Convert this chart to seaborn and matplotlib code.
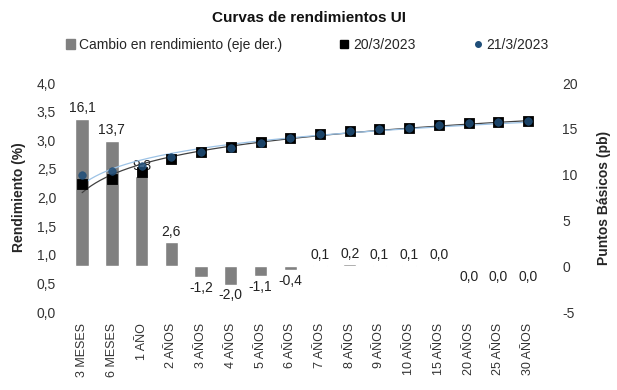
import numpy as np
import pandas as pd
import matplotlib
matplotlib.use("Agg")
import matplotlib.pyplot as plt
import seaborn as sns
from matplotlib.lines import Line2D
from matplotlib.patches import Patch

categories = ["3 MESES", "6 MESES", "1 AÑO", "2 AÑOS", "3 AÑOS", "4 AÑOS", "5 AÑOS",
              "6 AÑOS", "7 AÑOS", "8 AÑOS", "9 AÑOS", "10 AÑOS", "15 AÑOS",
              "20 AÑOS", "25 AÑOS", "30 AÑOS"]
cambio_pb = [16.1, 13.7, 9.8, 2.6, -1.2, -2.0, -1.1, -0.4, 0.1, 0.2, 0.1, 0.1, 0.02,
             -0.02, -0.02, -0.02]
rend_20 = [2.24, 2.32, 2.45, 2.67, 2.80, 2.88, 2.97, 3.04, 3.11, 3.16, 3.19, 3.22,
           3.27, 3.30, 3.32, 3.34]
rend_21 = [2.40, 2.46, 2.55, 2.70, 2.79, 2.86, 2.96, 3.04, 3.11, 3.16, 3.19, 3.22,
           3.27, 3.30, 3.32, 3.34]

sns.set_theme(style="white")
plt.rcParams['font.family'] = ['Liberation Sans', 'DejaVu Sans']

df = pd.DataFrame({"cat": categories, "cambio": cambio_pb,
                   "r20": rend_20, "r21": rend_21})
df["x"] = np.arange(len(df))

fig = plt.figure(figsize=(6.17, 3.9), dpi=100)
ax = fig.add_axes([0.109, 0.2, 0.771, 0.587])
ax2 = ax.twinx()

bar_color = "#808080"
ax2.bar(df["x"], df["cambio"], width=0.45, color=bar_color, zorder=1)
for xi, v in zip(df["x"], df["cambio"]):
    lab = "0,0" if abs(v) < 0.05 else f"{v:.1f}".replace(".", ",")
    if v >= 0:
        ax2.text(xi, v + 0.4, lab, ha="center", va="bottom", fontsize=10, color="#222222")
    else:
        ax2.text(xi, v - 0.4, lab, ha="center", va="top", fontsize=10, color="#222222")
ax2.set_ylim(-5, 20)
ax2.set_yticks([-5, 0, 5, 10, 15, 20])
ax2.set_ylabel("Puntos Básicos (pb)", fontsize=10, fontweight="bold", labelpad=14)

ax.set_zorder(ax2.get_zorder() + 1)
ax.patch.set_visible(False)

# logarithmic trend lines
xs = np.linspace(0, len(df) - 1, 200)
for col, c in [("r20", "#404040"), ("r21", "#9dc3e6")]:
    a, b = np.polyfit(np.log(df["x"] + 1), df[col], 1)
    ax.plot(xs, a * np.log(xs + 1) + b, color=c, lw=0.9, zorder=2)

sns.scatterplot(data=df, x="x", y="r20", marker="s", s=55, color="black",
                edgecolor="black", ax=ax, zorder=3, legend=False)
sns.scatterplot(data=df, x="x", y="r21", marker="o", s=30, color="#1f4e79",
                edgecolor="#1f4e79", ax=ax, zorder=4, legend=False, alpha=0.85)

ax.set_xlim(-0.5, len(df) - 0.5)
ax.set_ylim(0, 4)
ax.set_yticks(np.arange(0, 4.01, 0.5))
ax.set_yticklabels([f"{t:.1f}".replace(".", ",") for t in np.arange(0, 4.01, 0.5)])
ax2.set_yticklabels([str(t) for t in [-5, 0, 5, 10, 15, 20]])
ax.set_xticks(df["x"])
ax.set_xticklabels(categories, rotation=90)
ax.set_xlabel("")
ax.set_ylabel("Rendimiento (%)", fontsize=10, fontweight="bold", labelpad=8)

for a_ in (ax, ax2):
    for s in a_.spines.values():
        s.set_visible(False)
    a_.tick_params(length=0, labelsize=10, colors="#333333")
ax.tick_params(axis="y", pad=8)
ax2.tick_params(axis="y", pad=14)
ax.tick_params(axis="x", pad=8, labelsize=9)

fig.text(0.5, 0.955, "Curvas de rendimientos UI", ha="center", va="center",
         fontsize=11, fontweight="bold", color="#111111")
handles = [Patch(color=bar_color),
           Line2D([], [], marker="s", ls="", color="black", markersize=6),
           Line2D([], [], marker="o", ls="", color="#1f4e79", markersize=4)]
labels = ["Cambio en rendimiento (eje der.)", "20/3/2023", "21/3/2023"]
fig.legend(handles, labels, loc="center", bbox_to_anchor=(0.498, 0.885), ncol=3,
           frameon=False, fontsize=10, handlelength=0.6, handletextpad=0.3,
           columnspacing=4.2)

fig.savefig("out.png", dpi=100)
